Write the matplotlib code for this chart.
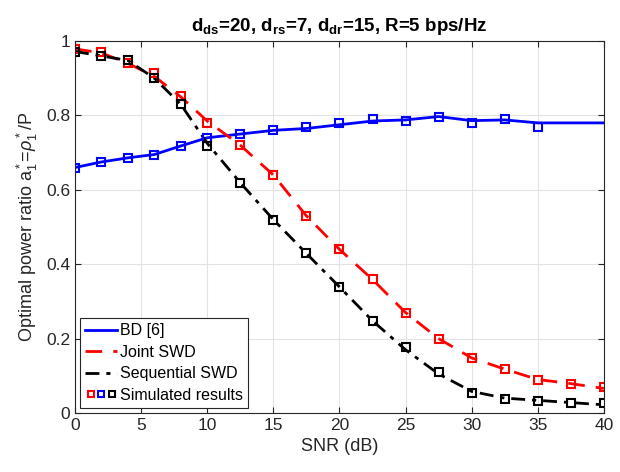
import matplotlib
matplotlib.use("Agg")
import matplotlib.pyplot as plt
from matplotlib.lines import Line2D
from matplotlib.legend_handler import HandlerTuple

plt.rcParams['font.family'] = ['Liberation Sans', 'DejaVu Sans']
plt.rcParams['mathtext.fontset'] = 'custom'
plt.rcParams['mathtext.rm'] = 'Liberation Sans'
plt.rcParams['mathtext.it'] = 'Liberation Sans:italic'
plt.rcParams['mathtext.bf'] = 'Liberation Sans:bold'

snr = [0, 2, 4, 6, 8, 10, 12.5, 15, 17.5, 20, 22.5, 25, 27.5, 30, 32.5, 35, 37.5, 40]

bd_line = [0.66, 0.675, 0.686, 0.695, 0.718, 0.74, 0.75, 0.76, 0.765, 0.775,
           0.785, 0.788, 0.797, 0.786, 0.788, 0.78, 0.78, 0.78]
joint_line = [0.979, 0.968, 0.94, 0.905, 0.85, 0.785, 0.72, 0.64, 0.53, 0.44,
              0.359, 0.27, 0.2, 0.148, 0.118, 0.09, 0.079, 0.066]
seq_line = [0.972, 0.96, 0.948, 0.9, 0.83, 0.725, 0.619, 0.52, 0.429, 0.339,
            0.248, 0.17, 0.105, 0.058, 0.04, 0.034, 0.028, 0.022]

snr_bd_sim = [0, 2, 4, 6, 8, 10, 12.5, 15, 17.5, 20, 22.5, 25, 27.5, 30, 32.5, 35]
bd_sim = [0.66, 0.675, 0.686, 0.694, 0.719, 0.739, 0.751, 0.76, 0.768, 0.78,
          0.79, 0.784, 0.795, 0.78, 0.79, 0.768]
joint_sim = [0.979, 0.97, 0.94, 0.913, 0.852, 0.78, 0.72, 0.64, 0.53, 0.44,
             0.359, 0.268, 0.2, 0.148, 0.118, 0.088, 0.079, 0.069]
seq_sim = [0.97, 0.96, 0.948, 0.9, 0.83, 0.718, 0.619, 0.52, 0.429, 0.339,
           0.248, 0.178, 0.109, 0.053, 0.038, 0.033, 0.026, 0.028]

xticks = [0, 5, 10, 15, 20, 25, 30, 35, 40]
yticks = [0, 0.2, 0.4, 0.6, 0.8, 1.0]
ytick_labels = ['0', '0.2', '0.4', '0.6', '0.8', '1']

fig = plt.figure(figsize=(6.2, 4.72), dpi=100)
ax = fig.add_axes([0.121, 0.125, 0.853, 0.788])

dark = '#262626'
lw = 2.0
ms = 5.5
mew = 1.5
ax.plot(snr, bd_line, color='#0000ff', lw=lw, ls='-')
ax.plot(snr, joint_line, color='#ff0000', lw=lw, ls=(0, (6, 4)))
ax.plot(snr, seq_line, color='black', lw=lw, ls=(0, (5, 2.5, 1.5, 2.5)))
ax.plot(snr_bd_sim, bd_sim, ls='none', marker='s', ms=ms, mfc='none', mec='#0000ff', mew=mew)
ax.plot(snr, joint_sim, ls='none', marker='s', ms=ms, mfc='none', mec='#ff0000', mew=mew)
ax.plot(snr, seq_sim, ls='none', marker='s', ms=ms, mfc='none', mec='black', mew=mew)

ax.set_xlim(0, 40)
ax.set_ylim(0, 1)
ax.set_xticks(xticks)
ax.set_yticks(yticks)
ax.set_yticklabels(ytick_labels)
ax.tick_params(direction='in', top=True, right=True, labelsize=12.5, length=4,
               color=dark, labelcolor=dark)
ax.grid(True, color='#e3e3e3', lw=0.8)
ax.set_axisbelow(True)
for s in ax.spines.values():
    s.set_color(dark)
    s.set_linewidth(0.8)

ax.set_xlabel('SNR (dB)', fontsize=13, color=dark)
ax.set_ylabel('Optimal power ratio a$_1^*$=$\\mathit{\\rho}_1^*$/P', fontsize=13, color=dark)
ax.set_title('d$_{\\mathbf{ds}}$=20, d$_{\\mathbf{rs}}$=7, d$_{\\mathbf{dr}}$=15, R=5 bps/Hz',
             fontsize=13.5, fontweight='bold', pad=7)

h_bd = Line2D([], [], color='#0000ff', lw=lw)
h_joint = Line2D([], [], color='#ff0000', lw=lw, ls=(0, (6, 4)))
h_seq = Line2D([], [], color='black', lw=lw, ls=(0, (5, 2.5, 1.5, 2.5)))
sq = dict(ls='none', marker='s', ms=5, mfc='none', mew=1.5)
h_sim = (Line2D([], [], mec='#ff0000', **sq), Line2D([], [], mec='#0000ff', **sq),
         Line2D([], [], mec='black', **sq))
leg = ax.legend([h_bd, h_joint, h_seq, h_sim],
                ['BD [6]', 'Joint SWD', 'Sequential SWD', 'Simulated results'],
                handler_map={tuple: HandlerTuple(ndivide=None, pad=0.0)},
                loc='lower left', fontsize=11.5, fancybox=False, framealpha=1,
                edgecolor=dark, handlelength=2.0, handletextpad=0.15,
                borderpad=0.35, labelspacing=0.4, borderaxespad=0.3)
leg.get_frame().set_linewidth(0.8)

fig.savefig('out.png', dpi=100)
